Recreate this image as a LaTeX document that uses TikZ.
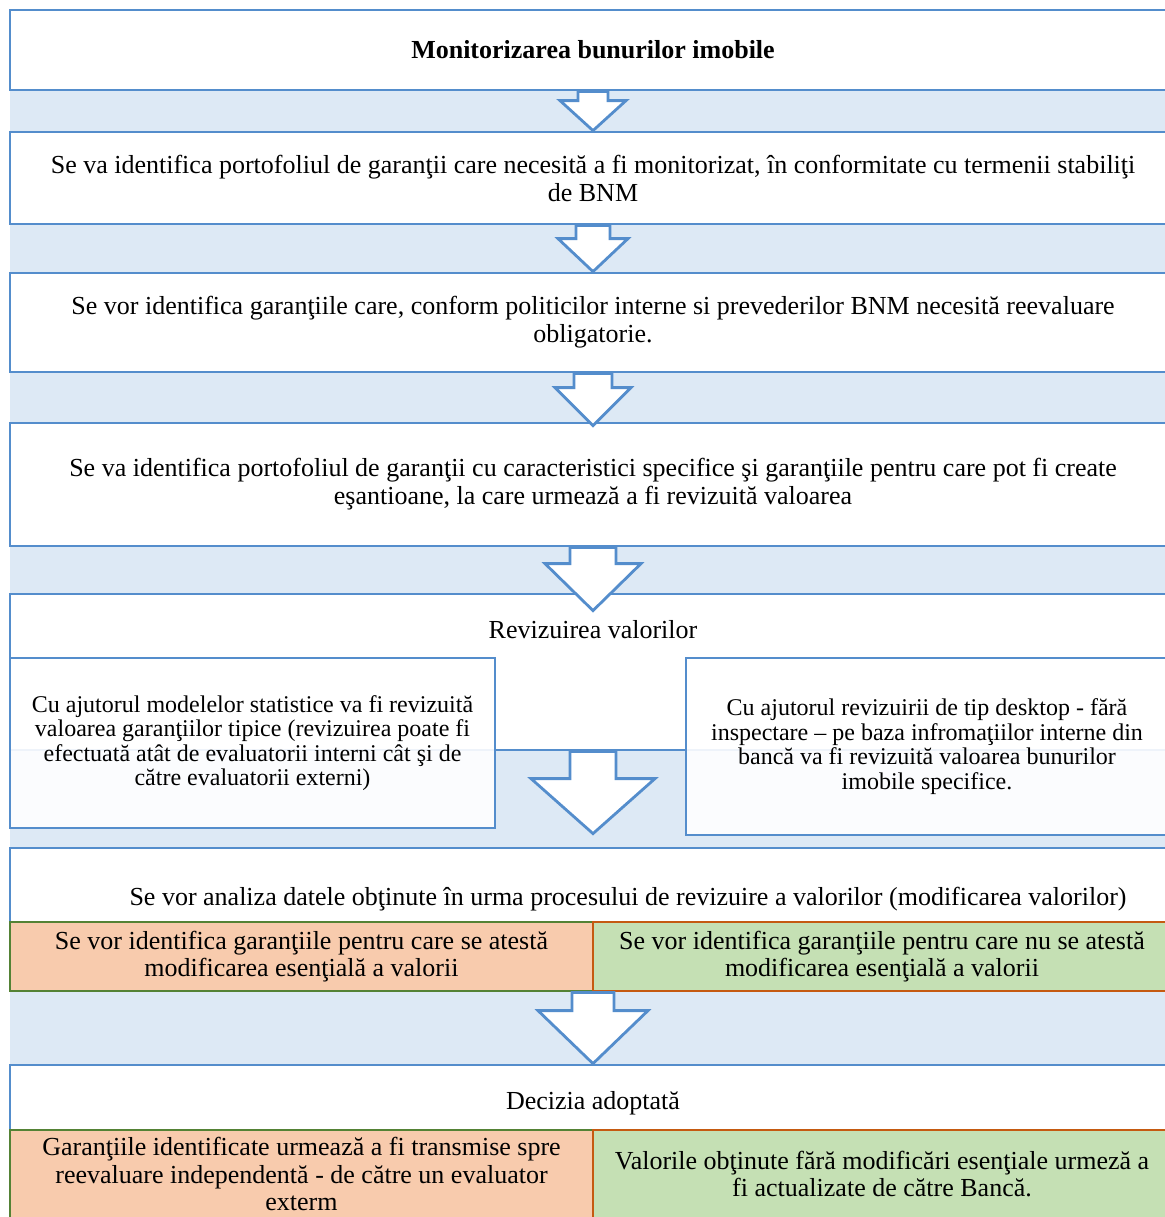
\documentclass[tikz,border=0pt]{standalone}
\usepackage{fontspec}
\setmainfont{Liberation Serif}
\usetikzlibrary{calc}
\definecolor{boxblue}{RGB}{84,141,204}
\definecolor{bandblue}{RGB}{221,233,245}
\definecolor{peach}{RGB}{248,203,173}
\definecolor{leaf}{RGB}{197,224,180}
\definecolor{darkleaf}{RGB}{84,130,53}
\definecolor{rust}{RGB}{197,90,17}
% block arrow: from, to, half shaft, half head, head length, overshoot
\newcommand\flowarrow[6]{\path (#1) coordinate (fa-s) ($(#2)+(0,#6)$) coordinate (fa-t);
\filldraw[arrowshape] ($(fa-s)+(-#3,0)$) -- ($(fa-t)+(-#3,-#5)$) -- ($(fa-t)+(-#4,-#5)$) -- (fa-t) -- ($(fa-t)+(#4,-#5)$) -- ($(fa-t)+(#3,-#5)$) -- ($(fa-s)+(#3,0)$) -- cycle;}

\begin{document}
\begin{tikzpicture}[x=0.5pt, y=-0.5pt,
  mainbox/.style={draw=boxblue, fill=white, line width=1.4pt, minimum width=583pt, align=center, inner sep=0pt, font=\fontsize{13}{14}\selectfont},
  sidebox/.style={draw=boxblue, fill=white, fill opacity=0.9, text opacity=1, line width=1.4pt, align=center, inner sep=0pt, font=\fontsize{12}{12.2}\selectfont},
  peachbox/.style={draw=darkleaf, fill=peach, line width=1.4pt, align=center, inner sep=0pt, font=\fontsize{13}{13.6}\selectfont},
  leafbox/.style={draw=rust, fill=leaf, line width=1.4pt, align=center, inner sep=0pt, font=\fontsize{13}{13.6}\selectfont},
  boxtitle/.style={inner sep=0pt, font=\fontsize{13}{14}\selectfont},
  arrowshape/.style={draw=boxblue, fill=white, line width=1.4pt, line join=miter}]
\clip (0,0) rectangle (1165,1217);
\fill[bandblue] (10,90) rectangle (1176,1230);

\node[mainbox, minimum height=40pt] (b1) at (593,50) {\textbf{Monitorizarea bunurilor imobile}};
\node[mainbox, minimum height=46pt] (b2) at (593,178) {Se va identifica portofoliul de garanţii care necesită a fi monitorizat, în conformitate cu termenii stabiliţi\\ de BNM};
\node[mainbox, minimum height=49.5pt] (b3) at (593,322.5) {Se vor identifica garanţiile care, conform politicilor interne si prevederilor BNM necesită reevaluare\\ obligatorie.};
\node[mainbox, minimum height=61.5pt] (b4) at (593,484.5) {Se va identifica portofoliul de garanţii cu caracteristici specifice şi garanţiile pentru care pot fi create\\ eşantioane, la care urmează a fi revizuită valoarea};
\node[mainbox, minimum height=78pt] (b5) at (593,672) {};
\node[boxtitle] (reviz) at (593,630) {Revizuirea valorilor};
\node[mainbox, minimum height=71.5pt] (b6) at (593,919.5) {};
\node[boxtitle] (anal) at (628,899) {Se vor analiza datele obţinute în urma procesului de revizuire a valorilor (modificarea valorilor)};
\node[mainbox, minimum height=76.5pt] (b7) at (593,1141.5) {};
\node[boxtitle] (decizie) at (593,1103) {Decizia adoptată};

\node[sidebox, minimum width=242.5pt, minimum height=85pt] (stat) at (252.5,743) {Cu ajutorul modelelor statistice va fi revizuită\\ valoarea garanţiilor tipice (revizuirea poate fi\\ efectuată atât de evaluatorii interni cât şi de\\ către evaluatorii externi)};
\node[sidebox, minimum width=241pt, minimum height=88.5pt] (desk) at (927,746.5) {Cu ajutorul revizuirii de tip desktop - fără\\ inspectare – pe baza infromaţiilor interne din\\ bancă va fi revizuită valoarea bunurilor\\ imobile specifice.};

\node[peachbox, minimum width=291.5pt, minimum height=34.5pt] (modyes) at (301.5,956.5) {Se vor identifica garanţiile pentru care se atestă\\ modificarea esenţială a valorii};
\node[leafbox, minimum width=289pt, minimum height=34.5pt] (modno) at (882,956.5) {Se vor identifica garanţiile pentru care nu se atestă\\ modificarea esenţială a valorii};
\node[peachbox, minimum width=291.5pt, minimum height=44pt] (extern) at (301.5,1174) {Garanţiile identificate urmează a fi transmise spre\\ reevaluare independentă - de către un evaluator\\ exterm};
\node[leafbox, minimum width=289pt, minimum height=44pt] (banca) at (882,1174) {Valorile obţinute fără modificări esenţiale urmeză a\\ fi actualizate de către Bancă.};

\flowarrow{b1.south}{b2.north}{15}{33}{30}{0}
\flowarrow{b2.south}{b3.north}{17}{35}{33}{0}
\flowarrow{b3.south}{b4.north}{19}{38}{38}{4}
\flowarrow{b4.south}{b5.north}{23}{48}{47}{18}
\flowarrow{b5.south}{b6.north}{23}{62}{55}{-13}
\flowarrow{b6.south}{b7.north}{21}{55}{53}{0}
\end{tikzpicture}
\end{document}
